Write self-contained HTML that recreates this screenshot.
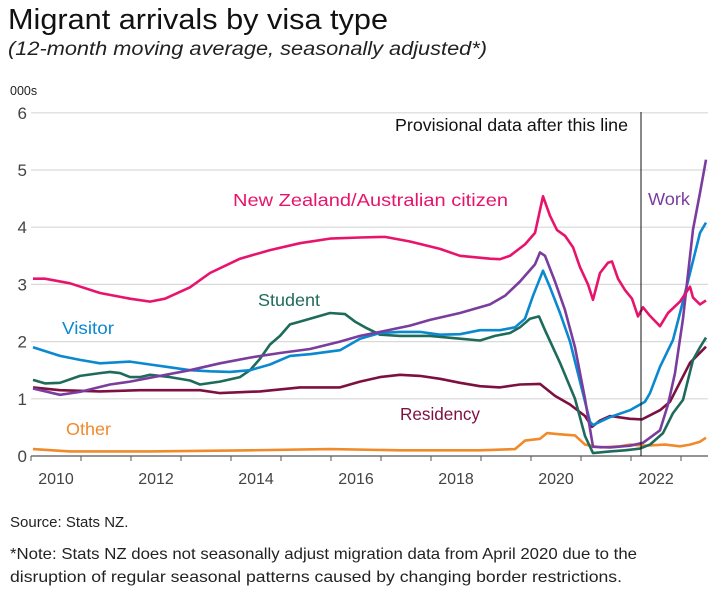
<!DOCTYPE html>
<html><head><meta charset="utf-8">
<style>
body{margin:0;background:#fff;width:727px;height:598px;overflow:hidden;font-family:"Liberation Sans",sans-serif;}
</style></head><body>
<svg id="chart" width="727" height="598" style="position:absolute;left:0;top:0"></svg>
<script>
const yTicks=[0,1,2,3,4,5,6];
const xYears=[2010,2012,2014,2016,2018,2020,2022];
const nzT=[2010.04,2010.28,2010.78,2011.38,2011.98,2012.38,2012.68,2013.18,2013.58,2014.18,2014.78,2015.38,2015.98,2016.58,2017.08,2017.58,2018.18,2018.58,2019.18,2019.38,2019.58,2019.88,2020.08,2020.24,2020.38,2020.52,2020.68,2020.84,2020.98,2021.14,2021.24,2021.38,2021.54,2021.62,2021.74,2021.88,2022.02,2022.14,2022.24,2022.38,2022.58,2022.74,2022.98,2023.18,2023.24,2023.38,2023.5];
const nzV=[3.1,3.1,3.02,2.85,2.75,2.7,2.75,2.95,3.2,3.45,3.6,3.72,3.8,3.82,3.83,3.75,3.62,3.5,3.45,3.44,3.5,3.7,3.9,4.54,4.2,3.95,3.85,3.65,3.3,3.0,2.73,3.2,3.38,3.4,3.1,2.9,2.75,2.44,2.6,2.45,2.27,2.5,2.7,2.96,2.77,2.65,2.72];
const workT=[2010.04,2010.58,2010.98,2011.58,2011.98,2012.58,2013.18,2013.78,2014.38,2014.98,2015.58,2016.18,2016.58,2016.98,2017.58,2017.98,2018.58,2019.18,2019.48,2019.78,2020.08,2020.18,2020.28,2020.48,2020.68,2020.88,2021.08,2021.24,2021.58,2021.98,2022.24,2022.58,2022.74,2022.88,2023.04,2023.24,2023.38,2023.5];
const workV=[1.18,1.07,1.12,1.25,1.3,1.4,1.5,1.62,1.72,1.8,1.87,2.0,2.1,2.17,2.28,2.38,2.5,2.65,2.8,3.05,3.35,3.56,3.5,3.05,2.55,1.9,1.0,0.16,0.15,0.18,0.23,0.45,0.9,1.45,2.4,3.96,4.6,5.18];
const visT=[2010.04,2010.58,2010.98,2011.38,2011.98,2012.38,2012.78,2013.18,2013.58,2013.98,2014.38,2014.78,2015.18,2015.58,2016.18,2016.58,2016.98,2017.38,2017.78,2018.18,2018.58,2018.98,2019.38,2019.68,2019.88,2020.04,2020.24,2020.38,2020.58,2020.78,2020.98,2021.18,2021.24,2021.58,2021.98,2022.28,2022.38,2022.58,2022.84,2022.98,2023.18,2023.38,2023.5];
const visV=[1.9,1.75,1.68,1.62,1.65,1.6,1.55,1.5,1.48,1.47,1.5,1.6,1.75,1.78,1.85,2.05,2.15,2.17,2.17,2.12,2.13,2.2,2.2,2.25,2.4,2.8,3.24,2.95,2.5,2.0,1.3,0.6,0.54,0.68,0.8,0.95,1.1,1.56,2.03,2.5,3.2,3.9,4.08];
const stuT=[2010.04,2010.28,2010.58,2010.98,2011.38,2011.58,2011.78,2011.98,2012.18,2012.38,2012.78,2013.18,2013.38,2013.78,2014.18,2014.38,2014.58,2014.78,2014.98,2015.18,2015.38,2015.58,2015.98,2016.28,2016.48,2016.68,2016.98,2017.38,2017.98,2018.58,2018.98,2019.28,2019.58,2019.78,2019.98,2020.16,2020.28,2020.58,2020.88,2021.08,2021.24,2021.58,2021.88,2022.18,2022.38,2022.64,2022.84,2023.04,2023.24,2023.38,2023.5];
const stuV=[1.33,1.27,1.28,1.4,1.45,1.47,1.45,1.38,1.38,1.42,1.38,1.32,1.25,1.3,1.38,1.5,1.7,1.95,2.1,2.3,2.35,2.4,2.5,2.48,2.35,2.25,2.12,2.1,2.1,2.05,2.02,2.1,2.15,2.25,2.4,2.44,2.2,1.63,1.0,0.35,0.05,0.08,0.1,0.13,0.2,0.4,0.75,0.98,1.68,1.9,2.07];
const resT=[2010.04,2010.58,2011.38,2012.18,2012.98,2013.38,2013.78,2014.58,2015.38,2016.18,2016.58,2016.98,2017.38,2017.78,2018.18,2018.58,2018.98,2019.38,2019.78,2020.18,2020.48,2020.78,2021.08,2021.22,2021.38,2021.58,2021.98,2022.22,2022.58,2022.78,2023.18,2023.5];
const resV=[1.2,1.15,1.13,1.15,1.15,1.15,1.1,1.13,1.2,1.2,1.3,1.38,1.42,1.4,1.35,1.28,1.22,1.2,1.25,1.26,1.05,0.9,0.7,0.51,0.62,0.7,0.65,0.64,0.8,0.95,1.63,1.91];
const othT=[2010.04,2010.78,2012.38,2014.38,2015.98,2017.38,2018.98,2019.68,2019.88,2020.18,2020.32,2020.58,2020.88,2021.08,2021.38,2021.78,2021.98,2022.28,2022.68,2022.98,2023.18,2023.38,2023.5];
const othV=[0.12,0.08,0.08,0.1,0.12,0.1,0.1,0.12,0.27,0.3,0.4,0.38,0.36,0.2,0.15,0.17,0.2,0.18,0.2,0.17,0.2,0.25,0.32];
const provisionalT=2022.2;

const svg=document.getElementById('chart');
const NS='http://www.w3.org/2000/svg';
const FF='Liberation Sans, sans-serif';
const x=t=>31+(t-2010)*50;
const y=v=>456-v*57.2;
function mk(tag,attrs){const e=document.createElementNS(NS,tag);for(const k in attrs)e.setAttribute(k,attrs[k]);svg.appendChild(e);return e;}

const title=mk('text',{x:8,y:29,'font-size':29,fill:'#111','font-family':FF,textLength:380,lengthAdjust:'spacingAndGlyphs'});
title.textContent='Migrant arrivals by visa type';


const sub=mk('text',{x:8,y:55,'font-size':19,'font-style':'italic',fill:'#222','font-family':FF,textLength:479,lengthAdjust:'spacingAndGlyphs'});
sub.textContent='(12-month moving average, seasonally adjusted*)';



yTicks.forEach(v=>{
  const g=mk('line',{x1:31,x2:708,y1:y(v),y2:y(v),stroke:v===0?'#555':'#d9d9d9','stroke-width':1.2});
  
  
  const tx=mk('text',{x:27,y:y(v)+6,'text-anchor':'end','font-size':17,fill:'#444','font-family':FF});
  tx.textContent=v;
  
  
});
const u=mk('text',{x:10,y:95,'font-size':12.5,fill:'#222','font-family':FF});
u.textContent='000s';


for(let yr=2010;yr<=2023;yr++){
  const tk=mk('line',{x1:x(yr),x2:x(yr),y1:456,y2:461,stroke:'#555','stroke-width':1});
  
  
}
xYears.forEach(yr=>{
  const tx=mk('text',{x:x(yr+0.5),y:484,'text-anchor':'middle','font-size':16,fill:'#444','font-family':FF});
  tx.textContent=yr;
  
  
});
const series=[
 ['other-line',othT,othV,'#f08a2a'],
 ['residency-line',resT,resV,'#7d1040'],
 ['student-line',stuT,stuV,'#1e6b5b'],
 ['visitor-line',visT,visV,'#0a88d0'],
 ['work-line',workT,workV,'#7a3d9e'],
 ['nz-aus-citizen-line',nzT,nzV,'#e8136c']
];
series.forEach(([n,T,V,c])=>{
  const p=mk('path',{d:T.map((t,i)=>(i?'L':'M')+x(t).toFixed(1)+','+y(V[i]).toFixed(1)).join(''),fill:'none',stroke:c,'stroke-width':2.6,'stroke-linejoin':'round'});
  
  
});
const vl=mk('line',{x1:x(provisionalT),x2:x(provisionalT),y1:112,y2:456,stroke:'#111','stroke-width':1});


const labels=[
 ['provisional-label','Provisional data after this line',395,131,'#111',233],
 ['nz-aus-citizen-label','New Zealand/Australian citizen',233,206,'#e8136c',275],
 ['work-label','Work',648,205,'#7a3d9e',42],
 ['student-label','Student',258,306,'#1e6b5b',62],
 ['visitor-label','Visitor',62,334,'#0a88d0',52],
 ['residency-label','Residency',400,420,'#7d1040',80],
 ['other-label','Other',66,435,'#f08a2a',45]
];
labels.forEach(([n,s,lx,ly,c,w])=>{
  const tx=mk('text',{x:lx,y:ly,'font-size':17.5,fill:c,'font-family':FF,textLength:w,lengthAdjust:'spacingAndGlyphs'});
  tx.textContent=s;
  
  
});
const src=mk('text',{x:10,y:527,'font-size':15,fill:'#222','font-family':FF});
src.textContent='Source: Stats NZ.';


const n1=mk('text',{x:10,y:559,'font-size':16,fill:'#222','font-family':FF,textLength:627,lengthAdjust:'spacingAndGlyphs'});
n1.textContent='*Note: Stats NZ does not seasonally adjust migration data from April 2020 due to the';


const n2=mk('text',{x:10,y:582,'font-size':16,fill:'#222','font-family':FF,textLength:612,lengthAdjust:'spacingAndGlyphs'});
n2.textContent='disruption of regular seasonal patterns caused by changing border restrictions.';


</script>
</body></html>
